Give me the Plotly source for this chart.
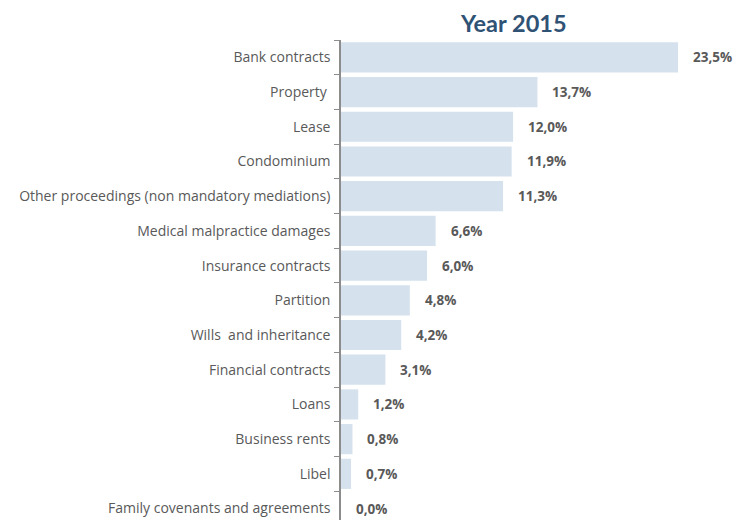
import plotly.graph_objects as go

categories = [
    "Bank contracts", "Property ", "Lease", "Condominium",
    "Other proceedings (non mandatory mediations)", "Medical malpractice damages",
    "Insurance contracts", "Partition", "Wills  and inheritance",
    "Financial contracts", "Loans", "Business rents", "Libel",
    "Family covenants and agreements",
]
values = [23.5, 13.7, 12.0, 11.9, 11.3, 6.6, 6.0, 4.8, 4.2, 3.1, 1.2, 0.8, 0.7, 0.0]
labels = [f"{v:.1f}%".replace(".", ",") for v in values]

fig = go.Figure(go.Bar(
    x=values, y=categories, orientation="h",
    marker=dict(color="#d5e2ee", line=dict(width=0)),
    hoverinfo="skip",
))

for c, v, t in zip(categories, values, labels):
    fig.add_annotation(x=v, y=c, text=t, showarrow=False, xanchor="left",
                       xshift=13, font=dict(family="Open Sans", size=13.5, color="#595959", weight="bold"))

fig.add_annotation(x=0.426, y=1, xref="paper", yref="paper", yshift=17,
                   text="<b>Year 2015</b>", showarrow=False, yanchor="middle",
                   font=dict(family="Lato", size=23.5, color="#2f5275"))

fig.update_layout(
    width=738, height=512,
    margin=dict(l=333, r=0, t=32, b=0, autoexpand=False),
    paper_bgcolor="white", plot_bgcolor="white",
    bargap=0.13, showlegend=False,
    xaxis=dict(range=[0, 28.24], visible=False),
    yaxis=dict(
        range=[13.33, -0.5], type="category", automargin=False,
        showline=True, linecolor="#8c8c8c", linewidth=1.5,
        ticks="outside", tickson="boundaries", ticklen=5, tickcolor="#8c8c8c",
        ticklabelstandoff=6,
        tickfont=dict(family="Open Sans", size=14, color="#595959"),
        showgrid=False, zeroline=False,
    ),
)

fig.write_html("out.html")
